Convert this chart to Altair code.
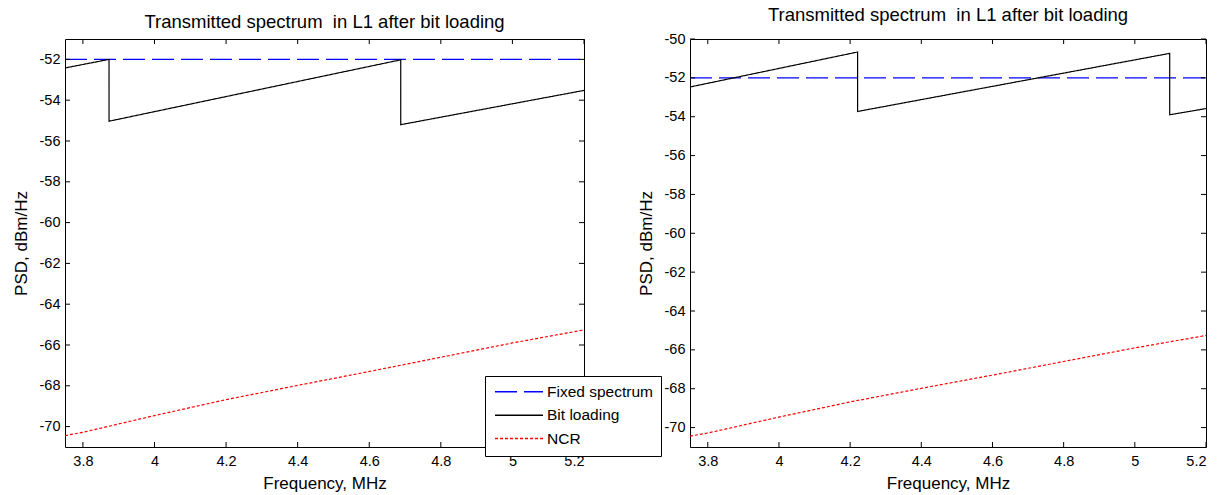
import altair as alt
import pandas as pd

FONT = "Liberation Sans"

# ---------------- data ----------------
series_names = ["Fixed spectrum", "Bit loading", "NCR"]
series_colors = ["#0000ff", "#000000", "#ff0000"]
series_dash = [[22, 7], [1, 0], [3, 2]]

fixed_freq = [3.75, 5.2]
fixed_psd = [-52.0, -52.0]

left_bit_freq = [3.75, 3.873, 3.873, 4.688, 4.688, 5.2]
left_bit_psd = [-52.42, -52.0, -55.03, -52.02, -55.2, -53.52]

right_bit_freq = [3.75, 4.221, 4.221, 5.098, 5.098, 5.2]
right_bit_psd = [-52.47, -50.67, -53.73, -50.74, -53.9, -53.58]

ncr_freq = [3.75, 3.8, 4.0, 4.2, 4.4, 4.6, 4.8, 5.0, 5.2]
ncr_psd = [-70.44, -70.28, -69.46, -68.68, -67.98, -67.3, -66.6, -65.9, -65.26]

x_ticks = [3.8, 4.0, 4.2, 4.4, 4.6, 4.8, 5.0, 5.2]
left_y_ticks = [-52, -54, -56, -58, -60, -62, -64, -66, -68, -70]
right_y_ticks = [-50, -52, -54, -56, -58, -60, -62, -64, -66, -68, -70]

x_domain = [3.75, 5.2]
left_y_domain = [-71, -51]
right_y_domain = [-71, -50]

TITLE = "Transmitted spectrum \u00a0in L1 after bit loading"


def make_df(bit_freq, bit_psd):
    rows = []
    for i, (f, p) in enumerate(zip(fixed_freq, fixed_psd)):
        rows.append({"freq": f, "psd": p, "series": series_names[0], "ord": i})
    for i, (f, p) in enumerate(zip(bit_freq, bit_psd)):
        rows.append({"freq": f, "psd": p, "series": series_names[1], "ord": i})
    for i, (f, p) in enumerate(zip(ncr_freq, ncr_psd)):
        rows.append({"freq": f, "psd": p, "series": series_names[2], "ord": i})
    return pd.DataFrame(rows)


def panel(df, y_domain, y_ticks, width, height, show_legend):
    xs = alt.Scale(domain=x_domain, nice=False, zero=False)
    ys = alt.Scale(domain=y_domain, nice=False, zero=False)
    x_axis = alt.Axis(values=x_ticks, title="Frequency, MHz", labelExpr="'' + datum.value",
                      ticks=False, domain=False, grid=False, labelPadding=7, titlePadding=8)
    y_axis = alt.Axis(values=y_ticks, title="PSD, dBm/Hz", labelExpr="'' + datum.value",
                      ticks=False, domain=False, grid=False, labelPadding=5, titlePadding=9)
    if show_legend:
        legend = alt.Legend(title=None, orient="none", legendX=420, legendY=337,
                            fillColor="white", strokeColor="black",
                            padding=8, symbolType="M-4,0H4", symbolSize=144,
                            symbolStrokeWidth=1.5, symbolOffset=18.25, labelOffset=20.25,
                            rowPadding=6.4, labelFont=FONT, labelFontSize=15.5,
                            labelColor="black")
    else:
        legend = None
    lines = alt.Chart(df).mark_line(strokeWidth=1.2, clip=True).encode(
        x=alt.X("freq:Q", scale=xs, axis=x_axis),
        y=alt.Y("psd:Q", scale=ys, axis=y_axis),
        color=alt.Color("series:N", scale=alt.Scale(domain=series_names, range=series_colors),
                        legend=legend),
        strokeDash=alt.StrokeDash("series:N", scale=alt.Scale(domain=series_names, range=series_dash),
                                  legend=legend),
        order="ord:Q",
    )
    xt = pd.DataFrame({"freq": x_ticks})
    yt = pd.DataFrame({"psd": y_ticks})
    tb = alt.Chart(xt).mark_rule(color="black", strokeWidth=1).encode(
        x="freq:Q", y=alt.value(height), y2=alt.value(height - 5))
    tt = alt.Chart(xt).mark_rule(color="black", strokeWidth=1).encode(
        x="freq:Q", y=alt.value(0), y2=alt.value(5))
    tl = alt.Chart(yt).mark_rule(color="black", strokeWidth=1).encode(
        y="psd:Q", x=alt.value(0), x2=alt.value(5))
    tr = alt.Chart(yt).mark_rule(color="black", strokeWidth=1).encode(
        y="psd:Q", x=alt.value(width - 5), x2=alt.value(width))
    return alt.layer(lines, tb, tt, tl, tr).properties(
        width=width, height=height,
        title=alt.TitleParams(TITLE, fontSize=18.5, font=FONT, fontWeight="normal",
                              color="black", anchor="middle", offset=7),
    )


left = panel(make_df(left_bit_freq, left_bit_psd), left_y_domain, left_y_ticks, 519, 408, True)
right = panel(make_df(right_bit_freq, right_bit_psd), right_y_domain, right_y_ticks, 516, 408, False)

chart = alt.hconcat(left, right, spacing=106, bounds="flush").resolve_scale(
    color="independent", strokeDash="independent"
).resolve_legend(color="independent", strokeDash="independent").configure_view(
    stroke="black", strokeWidth=1
).configure_axis(
    labelFont=FONT, labelFontSize=14.5, labelColor="black",
    titleFont=FONT, titleFontSize=17, titleFontWeight="normal", titleColor="black",
).properties(
    background="white", padding={"left": 11, "top": 5, "right": 5, "bottom": 2}
)

chart.save("out.html", embed_options={"renderer": "svg", "actions": False})
